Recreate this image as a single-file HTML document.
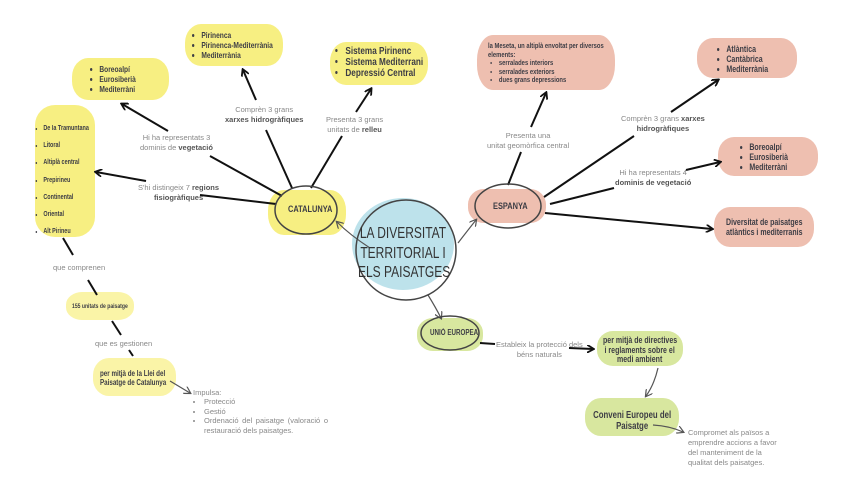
<!DOCTYPE html>
<html><head><meta charset="utf-8"><style>
body{margin:0;width:848px;height:477px;background:#fff;position:relative;overflow:hidden;font-family:"Liberation Sans",sans-serif}
.b{position:absolute;border-radius:16px/45%;opacity:.85}
.y{background:#f6ec6c}.s{background:#ebb4a2}.g{background:#d1e38e}
.t{position:absolute;font-family:"Liberation Sans",sans-serif;color:#3d3d45;font-weight:bold;white-space:nowrap;transform:scaleX(.78);transform-origin:0 0}
.l{position:absolute;font-size:7.5px;color:#888;text-align:center;white-space:nowrap;line-height:10px}
.l b{color:#555}
ul{margin:0;padding-left:12px}
</style></head><body>
<!-- blobs -->
<div class="b y" style="left:72px;top:58px;width:97px;height:42px"></div>
<div class="b y" style="left:185px;top:24px;width:98px;height:42px"></div>
<div class="b y" style="left:330px;top:42px;width:98px;height:43px"></div>
<div class="b y" style="left:35px;top:105px;width:60px;height:132px;border-radius:20px"></div>
<div class="b y" style="left:268px;top:190px;width:78px;height:45px"></div>
<div class="b y" style="left:66px;top:292px;width:68px;height:28px;opacity:.6"></div>
<div class="b y" style="left:93px;top:358px;width:83px;height:38px;opacity:.6"></div>
<div class="b" style="left:352px;top:198px;width:102px;height:92px;background:#b2dde8;border-radius:50%"></div>
<div class="b s" style="left:477px;top:35px;width:138px;height:55px"></div>
<div class="b s" style="left:697px;top:38px;width:100px;height:40px"></div>
<div class="b s" style="left:718px;top:137px;width:100px;height:39px"></div>
<div class="b s" style="left:714px;top:207px;width:100px;height:40px"></div>
<div class="b s" style="left:468px;top:189px;width:78px;height:34px"></div>
<div class="b g" style="left:417px;top:318px;width:66px;height:33px"></div>
<div class="b g" style="left:597px;top:331px;width:86px;height:35px"></div>
<div class="b g" style="left:585px;top:398px;width:94px;height:38px"></div>

<svg width="848" height="477" style="position:absolute;left:0;top:0">
<defs><marker id="a" markerWidth="8" markerHeight="8" refX="6" refY="4" orient="auto" markerUnits="userSpaceOnUse"><path d="M0,0 L7,4 L0,8" fill="none" stroke="#111" stroke-width="1.8"/></marker>
<marker id="a2" markerWidth="8" markerHeight="8" refX="6" refY="4" orient="auto" markerUnits="userSpaceOnUse"><path d="M0,0 L7,4 L0,8" fill="none" stroke="#555" stroke-width="1.2"/></marker></defs>
<g stroke="#111" stroke-width="2" fill="none">
<path d="M282,196 L210,156"/><path d="M168,131 L122,104" marker-end="url(#a)"/>
<path d="M292,188 L266,130"/><path d="M256,100 L243,70" marker-end="url(#a)"/>
<path d="M311,188 L342,136"/><path d="M356,112 L371,89" marker-end="url(#a)"/>
<path d="M276,204 L200,195"/><path d="M146,181 L96,172" marker-end="url(#a)"/>
<path d="M63,238 L73,255"/><path d="M88,280 L97,295"/>
<path d="M112,321 L121,335"/><path d="M129,350 L133,356"/>
<path d="M508,185 L521,152"/><path d="M531,127 L546,93" marker-end="url(#a)"/>
<path d="M544,197 L634,136"/><path d="M671,112 L718,80" marker-end="url(#a)"/>
<path d="M550,204 L614,188"/><path d="M686,170 L720,162" marker-end="url(#a)"/>
<path d="M545,213 L712,229" marker-end="url(#a)"/>
<path d="M480,343 L495,344"/><path d="M569,348 L593,349" marker-end="url(#a)"/>
</g>
<g stroke="#555" stroke-width="1.2" fill="none">
<path d="M370,248 Q350,235 337,222" marker-end="url(#a2)"/>
<path d="M458,243 Q468,230 476,220" marker-end="url(#a2)"/>
<path d="M428,295 Q436,308 441,318" marker-end="url(#a2)"/>
<path d="M658,368 Q654,385 646,396" marker-end="url(#a2)"/>
<path d="M653,425 Q670,426 683,432" marker-end="url(#a2)"/>
<path d="M170,381 L190,393" marker-end="url(#a2)"/>
</g>
<g fill="none" stroke="#444" stroke-width="1.5">
<ellipse cx="306" cy="210" rx="31" ry="24"/>
<ellipse cx="508" cy="206" rx="33" ry="22"/>
<ellipse cx="450" cy="333" rx="29" ry="17"/>
<circle cx="406" cy="250" r="50"/>
</g>
</svg>

<div class="t" style="left:90px;top:64px;font-size:8.5px;line-height:10px"><ul><li>Boreoalpí</li><li>Eurosiberià</li><li>Mediterràni</li></ul></div>
<div class="t" style="left:192px;top:30px;font-size:8.5px;line-height:10px"><ul><li>Pirinenca</li><li>Pirinenca-Mediterrània</li><li>Mediterrània</li></ul></div>
<div class="t" style="left:336px;top:46px;font-size:10.5px;line-height:11px"><ul><li>Sistema Pirinenc</li><li>Sistema Mediterrani</li><li>Depressió Central</li></ul></div>
<div class="t" style="left:34px;top:120px;font-size:7px;line-height:17.2px"><ul><li>De la Tramuntana</li><li>Litoral</li><li>Altiplà central</li><li>Prepirineu</li><li>Continental</li><li>Oriental</li><li>Alt Pirineu</li></ul></div>
<div class="t" style="left:288px;top:204px;font-size:9.5px">CATALUNYA</div>
<div class="t" style="left:358px;top:224px;font-size:16px;line-height:19.5px;text-align:center;font-weight:normal;color:#333;width:120px;transform:scaleX(.75)">LA DIVERSITAT<br>TERRITORIAL I<br>ELS PAISATGES</div>
<div class="t" style="left:493px;top:201px;font-size:9.5px">ESPANYA</div>
<div class="t" style="left:488px;top:42px;font-size:7.5px;line-height:8.5px">la Meseta, un altiplà envoltat per diversos<br>elements:<ul style="padding-left:14px"><li>serralades interiors</li><li>serralades exteriors</li><li>dues grans depressions</li></ul></div>
<div class="t" style="left:717px;top:44px;font-size:9px;line-height:10px"><ul><li>Atlàntica</li><li>Cantàbrica</li><li>Mediterrània</li></ul></div>
<div class="t" style="left:740px;top:142px;font-size:9px;line-height:10px"><ul><li>Boreoalpí</li><li>Eurosiberià</li><li>Mediterràni</li></ul></div>
<div class="t" style="left:726px;top:217px;font-size:9px;line-height:10px">Diversitat de paisatges<br>atlàntics i mediterranis</div>
<div class="t" style="left:430px;top:328px;font-size:8px">UNIÓ EUROPEA</div>
<div class="t" style="left:603px;top:336px;font-size:9px;line-height:9.5px;text-align:center;width:94px">per mitjà de directives<br>i reglaments sobre el<br>medi ambient</div>
<div class="t" style="left:590px;top:410px;font-size:10px;line-height:11px;text-align:center;width:108px">Conveni Europeu del<br>Paisatge</div>
<div class="t" style="left:72px;top:303px;font-size:6.5px">155 unitats de paisatge</div>
<div class="t" style="left:100px;top:369px;font-size:8px;line-height:9px">per mitjà de la Llei del<br>Paisatge de Catalunya</div>

<div class="l" style="left:140px;top:133px">Hi ha representats 3<br>dominis de <b>vegetació</b></div>
<div class="l" style="left:225px;top:105px">Comprèn 3 grans<br><b>xarxes hidrogràfiques</b></div>
<div class="l" style="left:326px;top:115px">Presenta 3 grans<br>unitats de <b>relleu</b></div>
<div class="l" style="left:138px;top:183px">S'hi distingeix 7 <b>regions<br>fisiogràfiques</b></div>
<div class="l" style="left:53px;top:263px">que comprenen</div>
<div class="l" style="left:95px;top:339px">que es gestionen</div>
<div class="l" style="left:487px;top:131px">Presenta una<br>unitat geomòrfica central</div>
<div class="l" style="left:621px;top:114px">Comprèn 3 grans <b>xarxes<br>hidrogràfiques</b></div>
<div class="l" style="left:615px;top:168px">Hi ha representats 4<br><b>dominis de vegetació</b></div>
<div class="l" style="left:496px;top:340px">Estableix la protecció dels<br>béns naturals</div>
<div class="l" style="left:688px;top:428px;text-align:left">Compromet als països a<br>emprendre accions a favor<br>del manteniment de la<br>qualitat dels paisatges.</div>
<div class="l" style="left:193px;top:388px;text-align:left;line-height:9.4px;width:135px;white-space:normal">Impulsa:<ul style="padding-left:11px"><li>Protecció</li><li>Gestió</li><li style="text-align:justify">Ordenació del paisatge (valoració o restauració dels paisatges.</li></ul></div>
</body></html>
